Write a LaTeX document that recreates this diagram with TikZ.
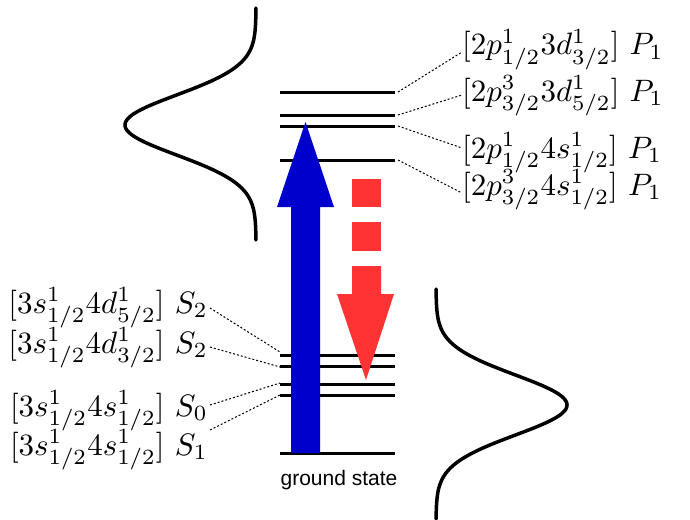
\documentclass[tikz,border=0pt]{standalone}
\usepackage{fontspec}
\newfontfamily\gsfont{Liberation Sans}
\definecolor{arrblue}{RGB}{0,0,204}
\definecolor{arrred}{RGB}{255,51,51}
\newcommand{\wlabel}[1]{\scalebox{3.1}{$#1$}}
\begin{document}
\begin{tikzpicture}[x=1pt,y=-1pt,
  level/.style={line width=3pt},
  lbl/.style={inner sep=0pt, font=\normalsize},
  dots/.style={line width=1pt, dash pattern=on 2pt off 2pt},
  curve/.style={line width=3.5pt, line cap=round}]
\useasboundingbox (0,0) rectangle (690,519);

% energy levels
\foreach \n/\y in {u1/92,u2/115,u3/126,u4/160,d1/355,d2/366,d3/384,d4/395,g/453} {
  \coordinate (\n l) at (280,\y);
  \coordinate (\n r) at (395,\y);
  \draw[level] (\n l) -- (\n r);
}

% gaussian profiles
\draw[curve] plot[domain=-117:115,samples=150,smooth] ({256-131*exp(-0.5*(\x/30)*(\x/30))},{125+\x});
\draw[curve] plot[domain=-116:114,samples=150,smooth] ({436+131*exp(-0.5*(\x/30)*(\x/30))},{405+\x});

% blue excitation arrow
\fill[arrblue] (291,453) -- (291,207) -- (277,207) -- (305.5,122) -- (334,207) -- (320,207) -- (320,453) -- cycle;

% red dashed decay arrow
\fill[arrred] (352,179) rectangle (381,207);
\fill[arrred] (352,222) rectangle (381,251);
\fill[arrred] (352,266) -- (352,294) -- (337,294) -- (366,380) -- (394,294) -- (381,294) -- (381,266) -- cycle;

% right labels
\node[lbl,anchor=base west] (r1) at (462,55) {\wlabel{[2p^1_{1/2}3d^1_{3/2}]\ P_1}};
\node[lbl,anchor=base west] (r2) at (462,101) {\wlabel{[2p^3_{3/2}3d^1_{5/2}]\ P_1}};
\node[lbl,anchor=base west] (r3) at (462,158) {\wlabel{[2p^1_{1/2}4s^1_{1/2}]\ P_1}};
\node[lbl,anchor=base west] (r4) at (462,195) {\wlabel{[2p^3_{3/2}4s^1_{1/2}]\ P_1}};

% left labels
\node[lbl,anchor=base east] (l1) at (208,313) {\wlabel{[3s^1_{1/2}4d^1_{5/2}]\ S_2}};
\node[lbl,anchor=base east] (l2) at (208,353) {\wlabel{[3s^1_{1/2}4d^1_{3/2}]\ S_2}};
\node[lbl,anchor=base east] (l3) at (208,416) {\wlabel{[3s^1_{1/2}4s^1_{1/2}]\ S_0}};
\node[lbl,anchor=base east] (l4) at (208,455) {\wlabel{[3s^1_{1/2}4s^1_{1/2}]\ S_1}};

% connectors
\draw[dots] ([xshift=3pt]u1r) -- ([yshift=3pt]r1.base west);
\draw[dots] ([xshift=3pt]u2r) -- ([yshift=6pt]r2.base west);
\draw[dots] ([xshift=3pt]u3r) -- ([yshift=10pt]r3.base west);
\draw[dots] ([xshift=3pt]u4r) -- ([yshift=2pt]r4.base west);
\draw[dots] ([xshift=2pt,yshift=5pt]l1.base east) -- ([yshift=3pt]d1l);
\draw[dots] ([xshift=2pt,yshift=6pt]l2.base east) -- ([yshift=-1pt]d2l);
\draw[dots] ([xshift=2pt,yshift=11pt]l3.base east) -- ([yshift=1pt]d3l);
\draw[dots] ([xshift=2pt,yshift=25pt]l4.base east) -- (d4l);

\node[font=\gsfont\fontsize{21}{25}\selectfont, anchor=base, inner sep=0pt] (gs) at (339,485) {ground state};
\end{tikzpicture}
\end{document}
